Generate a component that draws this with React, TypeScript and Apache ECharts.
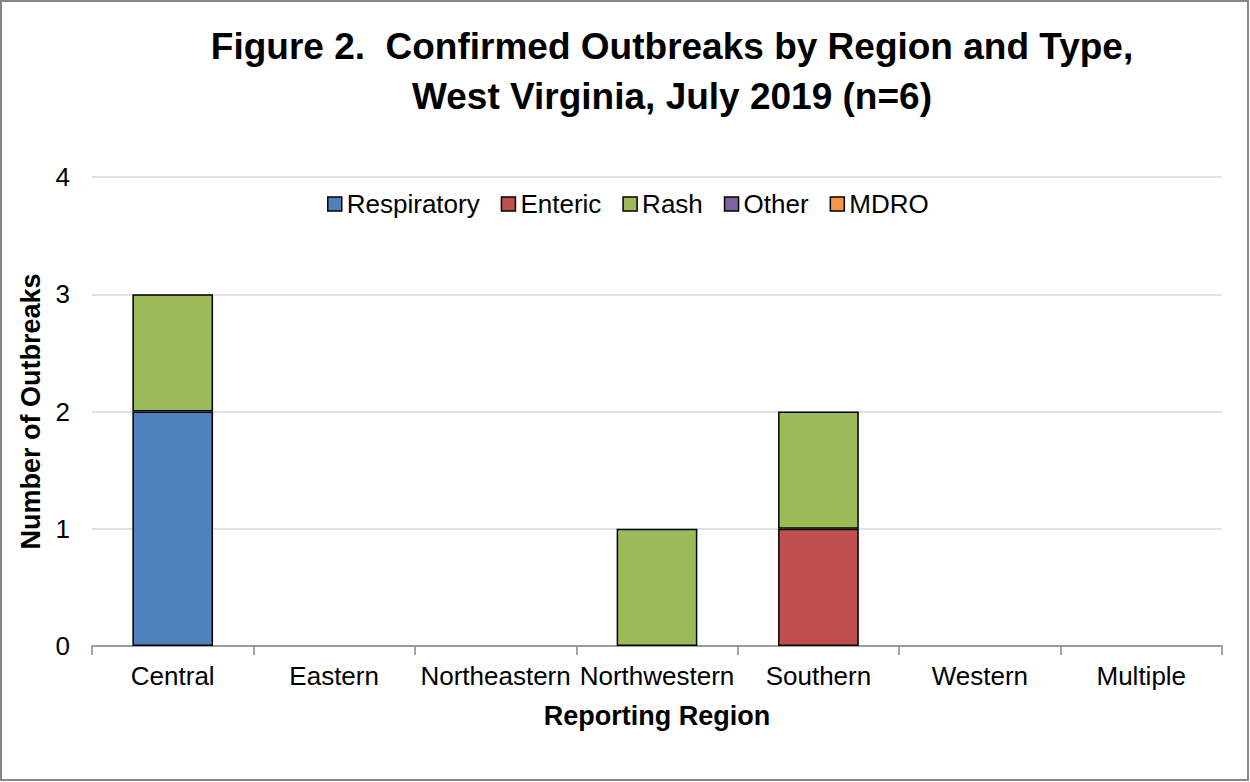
import React, { useEffect, useRef } from "react";
import * as echarts from "echarts";

const categories = ["Central", "Eastern", "Northeastern", "Northwestern", "Southern", "Western", "Multiple"];
const respiratory = [2, 0, 0, 0, 0, 0, 0];
const enteric = [0, 0, 0, 0, 1, 0, 0];
const rash = [1, 0, 0, 1, 1, 0, 0];
const other = [0, 0, 0, 0, 0, 0, 0];
const mdro = [0, 0, 0, 0, 0, 0, 0];
const seriesNames = ["Respiratory", "Enteric", "Rash", "Other", "MDRO"];
const seriesColors = ["#4f81bd", "#c0504d", "#9bbb59", "#8064a2", "#f79646"];
const yTicks = [0, 1, 2, 3, 4];

const FONT = "'Liberation Sans', Arial, sans-serif";

export default function App() {
  const ref = useRef<HTMLDivElement>(null);
  useEffect(() => {
    document.body.style.margin = "0";
    const chart = echarts.init(ref.current!, null, { renderer: "svg" });
    const all = [respiratory, enteric, rash, other, mdro];
    chart.setOption({
      animation: false,
      backgroundColor: "#ffffff",
      textStyle: { fontFamily: FONT },
      title: {
        text: "Figure 2.  Confirmed Outbreaks by Region and Type,\nWest Virginia, July 2019 (n=6)",
        left: 667,
        top: 16,
        textAlign: "center",
        textStyle: { fontFamily: FONT, fontSize: 37, fontWeight: "bold", color: "#000", lineHeight: 50 },
      },
      legend: {
        top: 186,
        left: 322,
        itemWidth: 14,
        itemHeight: 14,
        itemGap: 21,
        icon: "rect",
        textStyle: { fontFamily: FONT, fontSize: 26, color: "#000" },
        data: seriesNames.map((n, i) => ({
          name: n,
          itemStyle: { color: seriesColors[i], borderColor: "#000", borderWidth: 1.5 },
        })),
      },
      grid: { left: 92, right: 28, top: 177, bottom: 136 },
      xAxis: {
        type: "category",
        data: categories,
        name: "Reporting Region",
        nameLocation: "middle",
        nameGap: 56,
        nameTextStyle: { fontFamily: FONT, fontSize: 27, fontWeight: "bold", color: "#000" },
        axisLine: { lineStyle: { color: "#868686", width: 1.5 } },
        axisTick: { show: true, length: 9, lineStyle: { color: "#868686", width: 1.5 } },
        axisLabel: { fontFamily: FONT, fontSize: 26, color: "#000", margin: 17, interval: 0 },
      },
      yAxis: {
        type: "value",
        min: yTicks[0],
        max: yTicks[yTicks.length - 1],
        interval: 1,
        name: "Number of Outbreaks",
        nameLocation: "middle",
        nameGap: 46,
        nameTextStyle: { fontFamily: FONT, fontSize: 27, fontWeight: "bold", color: "#000" },
        axisLine: { show: false },
        axisTick: { show: false },
        axisLabel: { fontFamily: FONT, fontSize: 26, color: "#000", margin: 22 },
        splitLine: { lineStyle: { color: "#d9d9d9", width: 1.5 } },
      },
      series: seriesNames.map((n, i) => ({
        name: n,
        type: "bar",
        stack: "total",
        barWidth: "50%",
        itemStyle: { color: seriesColors[i], borderColor: "#000", borderWidth: 1.5 },
        data: all[i].map((v) => (v === 0 ? "-" : v)),
      })),
      graphic: [
        {
          type: "rect",
          shape: { x: 1, y: 1, width: 1247, height: 779 },
          style: { fill: "none", stroke: "#868686", lineWidth: 2 },
          silent: true,
        },
      ],
    });
    return () => chart.dispose();
  }, []);
  return <div ref={ref} style={{ width: 1250, height: 782 }} />;
}
